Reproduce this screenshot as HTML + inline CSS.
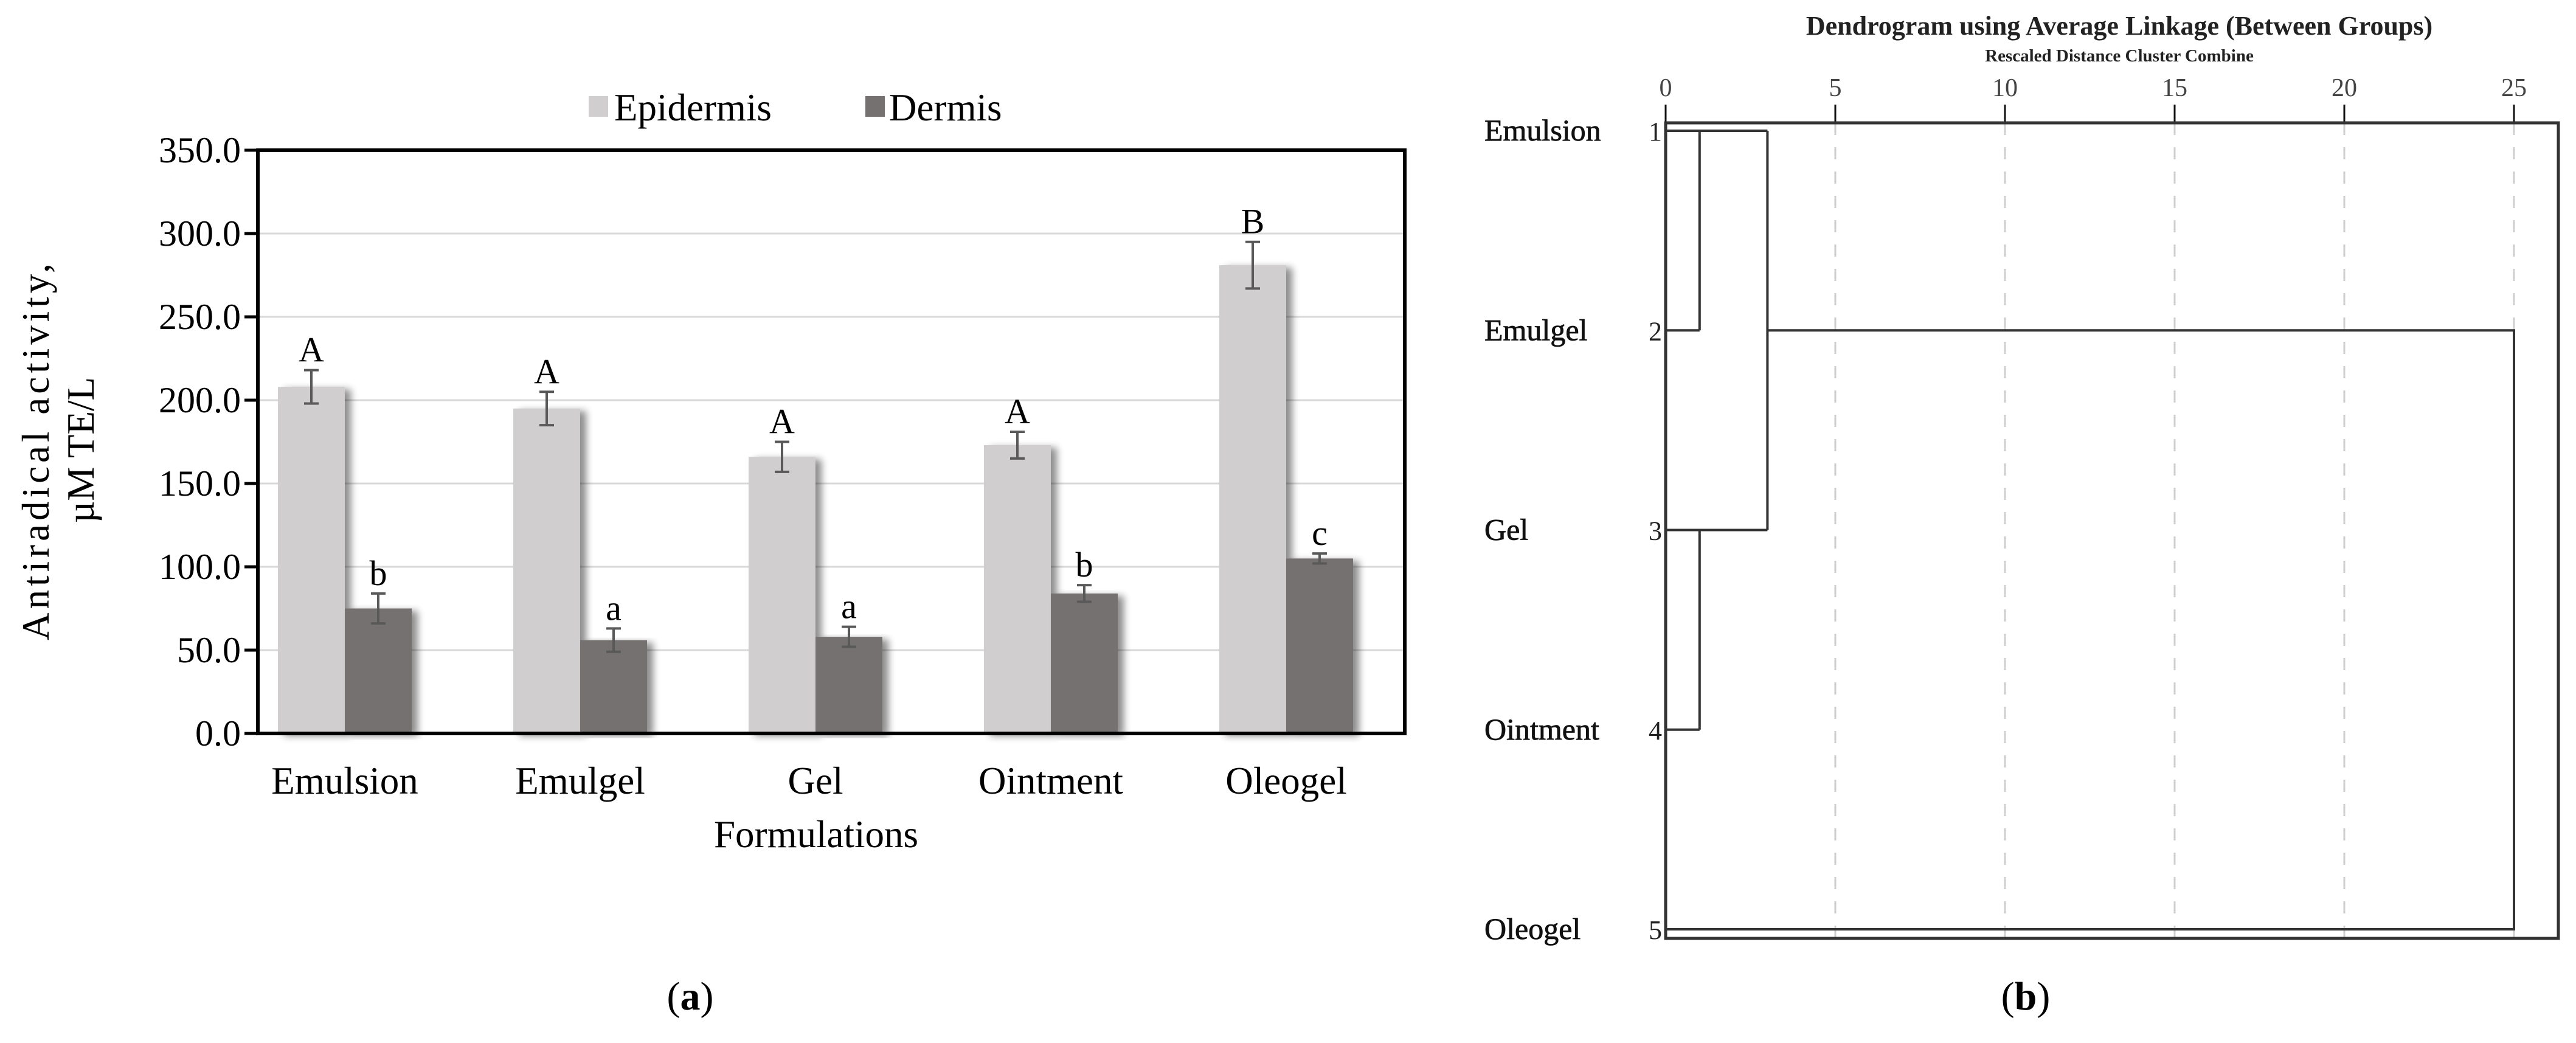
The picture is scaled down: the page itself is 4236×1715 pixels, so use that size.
<!DOCTYPE html>
<html><head><meta charset="utf-8"><style>
html,body{margin:0;padding:0;background:#fff;}
svg{display:block;font-family:"Liberation Serif",serif;}
</style></head><body>
<svg id="fig" width="4236" height="1715" viewBox="0 0 4236 1715" xmlns="http://www.w3.org/2000/svg">
<defs>
<filter id="sh" x="-20%" y="-5%" width="150%" height="110%">
<feGaussianBlur in="SourceAlpha" stdDeviation="6"/>
<feOffset dx="10" dy="4" result="b"/>
<feComponentTransfer><feFuncA type="linear" slope="0.45"/></feComponentTransfer>
<feMerge><feMergeNode/><feMergeNode in="SourceGraphic"/></feMerge>
</filter>
</defs>
<g id="barchart"></g>
<g id="dendro"></g>
<text x="1135" y="1660" font-size="66" text-anchor="middle">(<tspan font-weight="bold">a</tspan>)</text>
<text x="3331" y="1660" font-size="66" text-anchor="middle">(<tspan font-weight="bold">b</tspan>)</text>
</svg>
<script>
const categories = ["Emulsion","Emulgel","Gel","Ointment","Oleogel"];
const epidermis = [208,195,166,173,281];
const epidermisErr = [10,10,9,8,14];
const epidermisLetters = ["A","A","A","A","B"];
const dermis = [75,56,58,84,105];
const dermisErr = [9,7,6,5,3];
const dermisLetters = ["b","a","a","b","c"];
const yTicks = [0,50,100,150,200,250,300,350];
const yTickLabels = ["0.0","50.0","100.0","150.0","200.0","250.0","300.0","350.0"];

const dLeaves = ["Emulsion","Emulgel","Gel","Ointment","Oleogel"];
const dLeafNums = ["1","2","3","4","5"];
const dTicks = [0,5,10,15,20,25];
const dMergeDist12 = 1;
const dMergeDist34 = 1;
const dMergeDist1234 = 3;
const dMergeDistAll = 25;

const NS="http://www.w3.org/2000/svg";
function mk(parent,tag,attrs,text){const e=document.createElementNS(NS,tag);for(const k in attrs)e.setAttribute(k,attrs[k]);if(text!==undefined)e.textContent=text;parent.appendChild(e);return e;}

// ---- Bar chart ----
const bc=document.getElementById('barchart');
const PL=424,PR=2310,PT=247,PB=1206,YMAX=350;
const y=v=>PB-(v/YMAX)*(PB-PT);
const GW=387,G0=567;
const xc=i=>G0+GW*i;
const BW=110;
yTicks.forEach((t,i)=>{
  if(t>0&&t<YMAX){const g=mk(bc,'line',{x1:PL,x2:PR,y1:y(t),y2:y(t),stroke:'#d9d9d9','stroke-width':3});
  
  }
  const tk=mk(bc,'line',{x1:PL-22,x2:PL,y1:y(t),y2:y(t),stroke:'#000','stroke-width':5});
  
  
  const lb=mk(bc,'text',{x:396,y:y(t)+20,'font-size':60,'text-anchor':'end'},yTickLabels[i]);
  
  
});
function series(vals,errs,letters,color,off,name){
  vals.forEach((v,i)=>{
    const x0=xc(i)+off;
    const r=mk(bc,'rect',{x:x0,y:y(v),width:BW,height:PB-y(v),fill:color,filter:'url(#sh)'});
    
    
    const cx=x0+BW/2, t=y(v+errs[i]), b=y(v-errs[i]);
    const e=mk(bc,'path',{d:`M${cx-12},${t}H${cx+12}M${cx},${t}V${b}M${cx-12},${b}H${cx+12}`,stroke:'#595959','stroke-width':4,fill:'none'});
    
    
    const l=mk(bc,'text',{x:cx,y:t-14,'font-size':58,'text-anchor':'middle'},letters[i]);
    
    
  });
}
series(epidermis,epidermisErr,epidermisLetters,'#d0cecf',-BW,'epidermis');
series(dermis,dermisErr,dermisLetters,'#757171',0,'dermis');
const fr=mk(bc,'rect',{x:PL,y:PT,width:PR-PL,height:PB-PT,fill:'none',stroke:'#000','stroke-width':6});


categories.forEach((c,i)=>{
  const t=mk(bc,'text',{x:xc(i),y:1305,'font-size':63,'text-anchor':'middle'},c);
  
  
});
const xt=mk(bc,'text',{x:1342,y:1393,'font-size':63,'text-anchor':'middle'},'Formulations');


const yt=mk(bc,'text',{transform:'translate(0,740) rotate(-90)','font-size':63,'text-anchor':'middle'});


mk(yt,'tspan',{x:0,y:80,'letter-spacing':6},'Antiradical activity,');
mk(yt,'tspan',{x:0,y:154},'µM TE/L');
// legend
const lg=mk(bc,'g',{});


const le1=mk(lg,'rect',{x:968,y:158,width:32,height:34,fill:'#d0cecf'});


const lt1=mk(lg,'text',{x:1010,y:198,'font-size':63},'Epidermis');


const le2=mk(lg,'rect',{x:1423,y:158,width:32,height:34,fill:'#757171'});


const lt2=mk(lg,'text',{x:1462,y:198,'font-size':63},'Dermis');



// ---- Dendrogram ----
const dg=document.getElementById('dendro');
const DX0=2739,DX25=4134,BL=2739,BR=4207,BT=202,BB=1543;
const dx=v=>DX0+(v/25)*(DX25-DX0);
const rowY=i=>215+i*328.25;
const tt=mk(dg,'text',{x:3485,y:57,'font-size':44,'font-weight':'bold','text-anchor':'middle',fill:'#222'},'Dendrogram using Average Linkage (Between Groups)');


const st=mk(dg,'text',{x:3485,y:101,'font-size':29,'font-weight':'bold','text-anchor':'middle',fill:'#222'},'Rescaled Distance Cluster Combine');


dTicks.forEach(t=>{
  if(t>0){const g=mk(dg,'line',{x1:dx(t),x2:dx(t),y1:BT,y2:BB,stroke:'#cfcfcf','stroke-width':3,'stroke-dasharray':'20 20'});
  
  }
  const k=mk(dg,'line',{x1:dx(t),x2:dx(t),y1:172,y2:BT,stroke:'#111','stroke-width':3});
  
  
  const l=mk(dg,'text',{x:dx(t),y:158,'font-size':42,'text-anchor':'middle',fill:'#444'},String(t));
  
  
});
const bx=mk(dg,'rect',{x:BL,y:BT,width:BR-BL,height:BB-BT,fill:'none',stroke:'#333','stroke-width':5});


dLeaves.forEach((n,i)=>{
  const l=mk(dg,'text',{x:2441,y:rowY(i)+16,'font-size':50,fill:'#111','stroke':'#111','stroke-width':0.8},n);
  
  
  const m=mk(dg,'text',{x:2733,y:rowY(i)+16,'font-size':44,'text-anchor':'end',fill:'#222'},dLeafNums[i]);
  
  
});
const lines=[
 `M${dx(0)},${rowY(0)}H${dx(dMergeDist1234)}`,
 `M${dx(0)},${rowY(1)}H${dx(dMergeDist12)}`,
 `M${dx(dMergeDist12)},${rowY(0)}V${rowY(1)}`,
 `M${dx(0)},${rowY(2)}H${dx(dMergeDist1234)}`,
 `M${dx(0)},${rowY(3)}H${dx(dMergeDist34)}`,
 `M${dx(dMergeDist34)},${rowY(2)}V${rowY(3)}`,
 `M${dx(dMergeDist1234)},${rowY(0)}V${rowY(2)}`,
 `M${dx(dMergeDist1234)},${rowY(1)}H${dx(dMergeDistAll)}V${rowY(4)}H${dx(0)}`,
 `M${dx(0)},${rowY(0)}V${rowY(4)}`
];
lines.forEach(d=>{
  const p=mk(dg,'path',{d:d,stroke:'#333','stroke-width':4,fill:'none'});
  
  
});
</script>
</body></html>
